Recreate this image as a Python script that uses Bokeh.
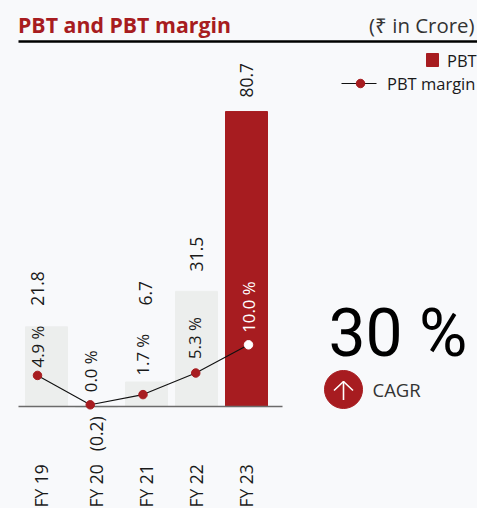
from bokeh.plotting import figure
from bokeh.models import Range1d, Label, ColumnDataSource
from bokeh.core.properties import value
from bokeh.embed import file_html
from bokeh.resources import INLINE
import math

categories = ["FY 19", "FY 20", "FY 21", "FY 22", "FY 23"]
pbt = [21.8, -0.2, 6.7, 31.5, 80.7]
pbt_labels = ["21.8", "(0.2)", "6.7", "31.5", "80.7"]
margin = [4.9, 0.0, 1.7, 5.3, 10.0]
margin_labels = ["4.9 %", "0.0 %", "1.7 %", "5.3 %", "10.0 %"]

RED = "#a71c20"
GREY = "#eceeed"
BG = "#f8f9fb"
INK = "#1a1a1a"
FONT = "Open Sans"
VERT = math.pi / 2

idx = list(range(len(categories)))

p = figure(width=477, height=508, output_backend="svg", toolbar_location=None,
           x_range=Range1d(-0.92, 8.62), y_range=Range1d(-27.9, 111.08),
           min_border=0, min_border_left=0, min_border_right=0, min_border_top=0, min_border_bottom=0,
           background_fill_color=BG, border_fill_color=BG, outline_line_color=None)
p.xaxis.visible = False
p.yaxis.visible = False
p.xgrid.visible = False
p.ygrid.visible = False
p.extra_x_ranges = {"line": Range1d(-0.7014, 8.341), "px": Range1d(0, 477)}
p.extra_y_ranges = {"pct": Range1d(-17.28, 67.38), "px": Range1d(508, 0)}

bars = ColumnDataSource(dict(
    x=idx, top=pbt, base=[0] * 5, color=[GREY, GREY, GREY, GREY, RED], label=pbt_labels,
    xo=[-9, -1, -1, 0, 0], yo=[-21, 44, -76.5, -20, -14], cat=categories,
    cxo=[-6, -0.5, -0.5, -0.5, -0.5], cyo=[101] * 5,
))
p.vbar(x="x", top="top", bottom=0, width=0.84, color="color", source=bars)

# baseline, title rule
p.segment([18], [406], [282], [406], line_color="#6b6b6b", line_width=1.6,
          x_range_name="px", y_range_name="px")
p.segment([18], [41], [477], [41], line_color="#000000", line_width=2.6,
          x_range_name="px", y_range_name="px")

p.text(x="x", y="top", text="label", source=bars, angle=VERT, x_offset="xo", y_offset="yo",
       text_font=value(FONT), text_font_size="17.5px", text_color=INK,
       text_align="left", text_baseline="middle")

p.text(x="x", y="base", text="cat", source=bars, angle=VERT, x_offset="cxo", y_offset="cyo",
       text_font=value(FONT), text_font_size="17.5px", text_color=INK,
       text_align="left", text_baseline="middle")

line = ColumnDataSource(dict(
    x=idx, y=margin, label=margin_labels,
    fill=[RED, RED, RED, RED, "#ffffff"],
    tc=[INK, INK, INK, INK, "#ffffff"],
    xo=[0, 0, -1, -1, 0], yo=[-8, -12.6, -19, -14, -12],
))
p.line("x", "y", source=line, line_color="#111111", line_width=1.1,
       x_range_name="line", y_range_name="pct")
p.scatter("x", "y", source=line, size=8.5, fill_color="fill", line_color="fill",
          x_range_name="line", y_range_name="pct")
p.text("x", "y", text="label", source=line, angle=VERT, x_offset="xo", y_offset="yo",
       text_font=value(FONT), text_font_size="16.8px", text_color="tc",
       text_align="left", text_baseline="middle",
       x_range_name="line", y_range_name="pct")

def label(x, y, text, size, color=INK, align="left", style="normal", font=FONT):
    p.add_layout(Label(x=x, y=y, text=text, text_font=font, text_font_size=size,
                       text_color=color, text_align=align, text_baseline="middle",
                       text_font_style=style, x_range_name="px", y_range_name="px"))

label(17.5, 24, "PBT and PBT margin", "21.3px", RED, style="bold")
label(474, 24, "(₹ in Crore)", "20.4px", "#333333", align="right")

# legend
p.quad(left=[426], right=[438], top=[53], bottom=[66], color=RED, x_range_name="px", y_range_name="px")
label(446.5, 60, "PBT", "16.5px")
p.segment([341], [83], [376], [83], line_color="#111111", line_width=1.1, x_range_name="px", y_range_name="px")
p.scatter([360], [83], size=8.5, color=RED, x_range_name="px", y_range_name="px")
label(386.5, 83, "PBT margin", "16.5px")

# CAGR callout
label(328, 333, "30 %", "66px", "#000000", font="Roboto")
p.scatter([343], [389], size=38, color=RED, x_range_name="px", y_range_name="px")
p.multi_line([[343, 343], [333.5, 343, 352.5]], [[399.5, 381], [390, 381, 390]],
             line_color="#ffffff", line_width=1.6, x_range_name="px", y_range_name="px")
label(372, 389, "CAGR", "18.5px", "#333333")

html = file_html(p, INLINE)
html = html.replace("<body>", f'<body style="margin:0;background:{BG};overflow:hidden">')
open("out.html", "w").write(html)
